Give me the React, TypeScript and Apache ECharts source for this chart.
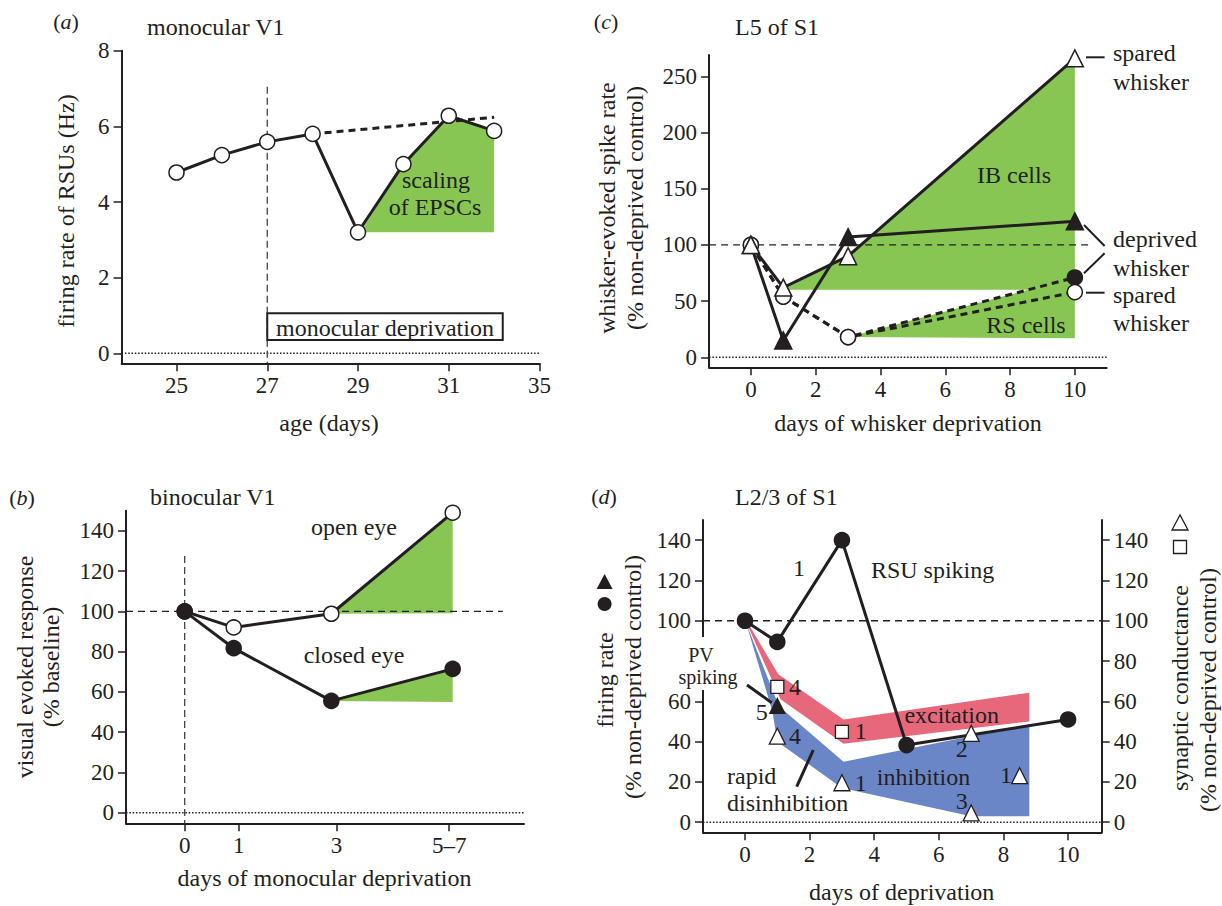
import React, { useEffect, useRef } from 'react';
import * as echarts from 'echarts';

const INK = '#231f20';
const FONT = 'Liberation Serif';
const GREEN = '#88c653';
const RED = '#e8687b';
const BLUE = '#6b86c6';
const TICK_FS = 23;
const TXT_FS = 24;

// ---------- Panel (a) monocular V1 ----------
const aDays = [25, 26, 27, 28, 29, 30, 31, 32];
const aRate = [4.78, 5.24, 5.59, 5.8, 3.2, 5.0, 6.28, 5.88];
const aCtrlDays = [28, 32];
const aCtrlRate = [5.8, 6.24];
const aTickPos = [25, 27, 29, 31, 33];
const aTickLabels = ['25', '27', '29', '31', '35'];
const aYTicks = [0, 2, 4, 6, 8];
const aScalingBase = 3.2;

// ---------- Panel (b) binocular V1 ----------
const bDays = [0, 0.97, 2.9, 5.3];
const bOpenEye = [100, 92, 98.8, 149];
const bClosedEye = [100, 81.7, 55.5, 71.4];
const bTickPos = [0, 1.07, 3, 5.23];
const bTickLabels = ['0', '1', '3', '5–7'];
const bYTicks = [0, 20, 40, 60, 80, 100, 120, 140];
const bOpenBase = 99;
const bClosedBase = 55;

// ---------- Panel (c) L5 of S1 ----------
const cDays = [0, 1, 3, 10];
const cIBSpared = [100, 62, 90, 266];
const cIBDeprived = [100, 15, 107, 121];
const cRSDeprived = [100, 54, 18, 71];
const cRSSpared = [100, 54, 18, 58];
const cXTicks = [0, 2, 4, 6, 8, 10];
const cYTicks = [0, 50, 100, 150, 200, 250];
const cIBBase = 60;
const cRSBase = 17;

// ---------- Panel (d) L2/3 of S1 ----------
const dRSUDays = [0, 1, 3, 5, 10];
const dRSU = [100, 89.5, 140, 38.3, 51];
const dPVDays = [1];
const dPV = [57.7];
const dExcDays = [1, 3];
const dExc = [67.2, 44.8];
const dInhDays = [1, 3, 7, 7, 8.5];
const dInh = [42.7, 19.6, 44.1, 4.6, 23.1];
const dExcBand = [[0.05, 100], [1.03, 73.5], [3.05, 51], [8.8, 64.3], [8.8, 50], [3.05, 39], [1.1, 61], [0.1, 97]];
const dInhBand = [[0.03, 99], [1.05, 57.5], [3.05, 30], [8.8, 48.5], [8.8, 3], [7, 3], [3, 17], [1, 40], [0.85, 55]];
const dXTicks = [0, 2, 4, 6, 8, 10];
const dYTicksLeft = [0, 20, 40, 60, 100, 120, 140];
const dYTicksRight = [0, 20, 40, 60, 80, 100, 120, 140];

const zip = (xs: number[], ys: number[]) => xs.map((x, i) => [x, ys[i]]);

function axisBase(extra: any) {
  return {
    type: 'value',
    axisLine: { show: true, onZero: false, lineStyle: { color: INK, width: 2 } },
    splitLine: { show: false },
    ...extra,
  };
}

function xAx(grid: number, min: number, max: number, ticks: number[], labels?: string[]) {
  return axisBase({
    gridIndex: grid, min, max,
    axisTick: { show: true, length: 8, lineStyle: { color: INK, width: 1.5 }, customValues: ticks },
    axisLabel: {
      color: INK, fontSize: TICK_FS, fontFamily: FONT, margin: 11, customValues: ticks,
      formatter: (v: number) => {
        const i = ticks.findIndex((t) => Math.abs(t - v) < 1e-6);
        return labels && i >= 0 ? labels[i] : String(v);
      },
    },
  });
}

function yAx(grid: number, min: number, max: number, ticks: number[], position = 'left') {
  return axisBase({
    gridIndex: grid, min, max, position,
    axisTick: { show: true, length: 8, lineStyle: { color: INK, width: 1.5 }, customValues: ticks },
    axisLabel: { color: INK, fontSize: TICK_FS, fontFamily: FONT, margin: 12, customValues: ticks },
  });
}

function poly(ax: number, ay: number, pts: number[][], color: string) {
  return {
    type: 'custom', xAxisIndex: ax, yAxisIndex: ay, z: 1, silent: true, data: pts,
    renderItem: (params: any, api: any) =>
      params.dataIndex === 0
        ? { type: 'polygon', shape: { points: pts.map((p) => api.coord(p)) }, style: { fill: color } }
        : null,
  };
}

function refLine(ax: number, ay: number, data: number[][], dash: any, width = 1.3, color = INK) {
  return {
    type: 'line', xAxisIndex: ax, yAxisIndex: ay, data, symbol: 'none', silent: true, z: 2,
    lineStyle: { color, width, type: dash },
  };
}

function dataLine(ax: number, ay: number, data: number[][], symbol: string, filled: boolean, dashed: boolean, size = 15) {
  return {
    type: 'line', xAxisIndex: ax, yAxisIndex: ay, data, symbol, symbolSize: size, silent: true, z: 3,
    showAllSymbol: true,
    lineStyle: { color: INK, width: 3, type: dashed ? [7, 5] : 'solid' },
    itemStyle: { color: filled ? INK : '#ffffff', borderColor: INK, borderWidth: 1.5, opacity: 1 },
  };
}

function scatter(ax: number, ay: number, data: number[][], symbol: string, filled: boolean, size: number) {
  return {
    type: 'scatter', xAxisIndex: ax, yAxisIndex: ay, data, symbol, symbolSize: size, silent: true, z: 4,
    itemStyle: { color: filled ? INK : '#ffffff', borderColor: INK, borderWidth: 1.3, opacity: 1 },
  };
}

function txt(text: string, x: number, y: number, o: any = {}) {
  const align = o.align || 'center';
  return {
    type: 'text', x, y, rotation: o.rot || 0, silent: true, z: 10,
    style: {
      text, fill: INK, fontSize: o.size || TXT_FS, fontFamily: FONT, fontStyle: o.italic ? 'italic' : 'normal',
      textAlign: align, align, textVerticalAlign: 'middle', verticalAlign: 'middle',
    },
  };
}

function letter(l: string, x: number, y: number) {
  return {
    type: 'text', x, y, silent: true, z: 10,
    style: {
      text: `{p|(}{i|${l}}{p|)}`,
      textAlign: 'center', align: 'center', textVerticalAlign: 'middle', verticalAlign: 'middle',
      rich: {
        p: { fontSize: 22, fontFamily: FONT, fill: INK, color: INK },
        i: { fontSize: 22, fontFamily: FONT, fontStyle: 'italic', fill: INK, color: INK },
      },
    },
  };
}

function seg(x1: number, y1: number, x2: number, y2: number, w = 2) {
  return { type: 'line', silent: true, z: 10, shape: { x1, y1, x2, y2 }, style: { stroke: INK, lineWidth: w } };
}

function buildOption() {
  const R = Math.PI / 2;
  const boxSeries = {
    type: 'custom', xAxisIndex: 0, yAxisIndex: 0, z: 5, silent: true, data: [[27, 1.06], [32.19, 0.35]],
    renderItem: (params: any, api: any) => {
      if (params.dataIndex !== 0) return null;
      const p1 = api.coord([27, 1.06]);
      const p2 = api.coord([32.19, 0.35]);
      return {
        type: 'group',
        children: [
          { type: 'rect', shape: { x: p1[0], y: p1[1], width: p2[0] - p1[0], height: p2[1] - p1[1] }, style: { fill: '#fff', stroke: INK, lineWidth: 2 } },
          {
            type: 'text', style: {
              text: 'monocular deprivation', x: (p1[0] + p2[0]) / 2, y: (p1[1] + p2[1]) / 2 + 1,
              fill: INK, fontSize: TXT_FS, fontFamily: FONT, align: 'center', verticalAlign: 'middle', textAlign: 'center', textVerticalAlign: 'middle',
            },
          },
        ],
      };
    },
  };

  const aGreen = [[29.05, aScalingBase], ...zip(aDays.slice(5), aRate.slice(5)), [32, aScalingBase]];
  const bGreenOpen = [[bDays[2], bOpenEye[2]], [bDays[3], bOpenEye[3]], [bDays[3], bOpenBase]];
  const bGreenClosed = [[bDays[2], bClosedEye[2]], [bDays[3], bClosedEye[3]], [bDays[3], bClosedBase]];
  const cGreenIB = [[cDays[1], cIBBase], [cDays[2], cIBSpared[2]], [cDays[3], cIBSpared[3]], [cDays[3], cIBBase]];
  const cGreenRS = [[cDays[2], cRSDeprived[2]], [cDays[3], cRSDeprived[3]], [cDays[3], cRSBase]];

  return {
    animation: false,
    backgroundColor: '#ffffff',
    textStyle: { fontFamily: FONT },
    grid: [
      { left: 121.6, top: 50.7, width: 417.9, height: 312.6 },
      { left: 126, top: 510.7, width: 398, height: 312.6 },
      { left: 709.1, top: 55, width: 397.5, height: 312.3 },
      { left: 703, top: 520, width: 398.7, height: 312.3 },
    ],
    xAxis: [
      xAx(0, 23.79, 33, aTickPos, aTickLabels),
      xAx(1, -1.16, 6.71, bTickPos, bTickLabels),
      xAx(2, -1.29, 10.98, cXTicks),
      xAx(3, -1.3, 11.04, dXTicks),
    ],
    yAxis: [
      yAx(0, -0.263, 8, aYTicks),
      yAx(1, -5.3, 150, bYTicks),
      yAx(2, -8.9, 269, cYTicks),
      yAx(3, -5, 150, dYTicksLeft),
      yAx(3, -5, 150, dYTicksRight, 'right'),
    ],
    series: [
      // (a)
      poly(0, 0, aGreen, GREEN),
      refLine(0, 0, [[23.79, 0], [33, 0]], [1.5, 1.8], 1.5),
      refLine(0, 0, [[27, 7.05], [27, -0.26]], [7, 4], 1.3, '#444'),
      boxSeries,
      dataLine(0, 0, zip(aCtrlDays, aCtrlRate), 'none', false, true),
      dataLine(0, 0, zip(aDays, aRate), 'circle', false, false, 15),
      // (b)
      poly(1, 1, bGreenOpen, GREEN),
      poly(1, 1, bGreenClosed, GREEN),
      refLine(1, 1, [[-1.16, 100], [6.29, 100]], [7, 5]),
      refLine(1, 1, [[0, 127.5], [0, -5.3]], [7, 4], 1.3, '#444'),
      refLine(1, 1, [[-1.16, 0], [6.71, 0]], [1.5, 1.8], 1.5),
      dataLine(1, 1, zip(bDays, bOpenEye), 'circle', false, false, 15),
      dataLine(1, 1, zip(bDays, bClosedEye), 'circle', true, false, 15),
      // (c)
      poly(2, 2, cGreenIB, GREEN),
      poly(2, 2, cGreenRS, GREEN),
      refLine(2, 2, [[-1.29, 100], [10.42, 100]], [7, 5]),
      refLine(2, 2, [[-1.29, 0], [10.98, 0]], [1.5, 1.8], 1.5),
      dataLine(2, 2, zip(cDays, cRSDeprived), 'circle', true, true, 15),
      dataLine(2, 2, zip(cDays, cRSSpared), 'circle', false, true, 15),
      dataLine(2, 2, zip(cDays, cIBDeprived), 'triangle', true, false, 17),
      dataLine(2, 2, zip(cDays, cIBSpared), 'triangle', false, false, 17),
      // (d)
      poly(3, 3, dExcBand, RED),
      poly(3, 3, dInhBand, BLUE),
      refLine(3, 3, [[-1.3, 100], [11.04, 100]], [7, 5]),
      refLine(3, 3, [[-1.3, 0], [11.04, 0]], [1.5, 1.8], 1.5),
      dataLine(3, 3, zip(dRSUDays, dRSU), 'circle', true, false, 15),
      scatter(3, 3, zip(dPVDays, dPV), 'triangle', true, 15),
      scatter(3, 3, zip(dExcDays, dExc), 'rect', false, 13),
      scatter(3, 3, zip(dInhDays, dInh), 'triangle', false, 16),
    ],
    graphic: [
      // (a)
      letter('a', 66, 21),
      txt('monocular V1', 147, 27, { align: 'left' }),
      txt('scaling', 436, 180),
      txt('of EPSCs', 435, 207),
      txt('firing rate of RSUs (Hz)', 66, 211, { rot: R }),
      txt('age (days)', 329, 423),
      // (b)
      letter('b', 22, 497),
      txt('binocular V1', 150, 497, { align: 'left' }),
      txt('open eye', 354, 527),
      txt('closed eye', 354, 655),
      txt('visual evoked response', 25, 667, { rot: R }),
      txt('(% baseline)', 51, 667, { rot: R }),
      txt('days of monocular deprivation', 324.5, 878),
      // (c)
      letter('c', 606, 21),
      txt('L5 of S1', 735, 27, { align: 'left' }),
      txt('IB cells', 1014, 175),
      txt('RS cells', 1026, 325),
      txt('spared', 1113, 53, { align: 'left' }),
      txt('whisker', 1113, 82, { align: 'left' }),
      txt('deprived', 1113, 239, { align: 'left' }),
      txt('whisker', 1113, 268, { align: 'left' }),
      txt('spared', 1113, 295, { align: 'left' }),
      txt('whisker', 1113, 323, { align: 'left' }),
      seg(1086, 57.3, 1104.6, 57.3),
      seg(1084, 225, 1104.6, 246),
      seg(1104.6, 253.3, 1084, 273.3),
      seg(1086, 292.7, 1104.6, 292.7),
      txt('whisker-evoked spike rate', 606.6, 208, { rot: R }),
      txt('(% non-deprived control)', 635.3, 208, { rot: R }),
      txt('days of whisker deprivation', 908, 423),
      // (d)
      letter('d', 604, 496),
      txt('L2/3 of S1', 735, 497, { align: 'left' }),
      txt('RSU spiking', 932.6, 570),
      txt('1', 799, 568),
      { type: 'rect', silent: true, z: 9, shape: { x: 697, y: 637, width: 12, height: 53 }, style: { fill: '#fff' } },
      txt('PV', 701, 655, { size: 20 }),
      txt('spiking', 708, 677, { size: 20 }),
      seg(747, 685, 771.7, 702.7, 3),
      txt('excitation', 951.7, 715),
      txt('inhibition', 923.5, 777),
      txt('rapid', 727, 776, { align: 'left' }),
      txt('disinhibition', 727, 803, { align: 'left' }),
      seg(813.3, 750, 796.7, 786.7, 3),
      txt('4', 795, 687),
      txt('5', 761.7, 712),
      txt('4', 795, 736),
      txt('1', 860.7, 731),
      txt('1', 860.7, 783),
      txt('2', 961.7, 749),
      txt('3', 961.7, 801),
      txt('1', 1006, 775),
      txt('firing rate', 604.6, 680, { rot: R }),
      txt('(% non-deprived control)', 633.3, 677, { rot: R }),
      { type: 'circle', silent: true, z: 10, shape: { cx: 604.6, cy: 604, r: 7 }, style: { fill: INK } },
      { type: 'polygon', silent: true, z: 10, shape: { points: [[604.6, 574], [596.6, 589], [612.6, 589]] }, style: { fill: INK } },
      txt('synaptic conductance', 1180, 688, { rot: R }),
      txt('(% non-deprived control)', 1208, 690, { rot: R }),
      { type: 'rect', silent: true, z: 10, shape: { x: 1173.5, y: 540.5, width: 13, height: 13 }, style: { fill: '#fff', stroke: INK, lineWidth: 1.3 } },
      { type: 'polygon', silent: true, z: 10, shape: { points: [[1180, 515], [1172, 530], [1188, 530]] }, style: { fill: '#fff', stroke: INK, lineWidth: 1.3 } },
      txt('days of deprivation', 901.7, 891.7),
    ],
  };
}

export default function App() {
  const ref = useRef<HTMLDivElement>(null);
  useEffect(() => {
    document.body.style.margin = '0';
    const chart = echarts.init(ref.current as HTMLDivElement, null, { renderer: 'svg' });
    chart.setOption(buildOption() as any);
    return () => chart.dispose();
  }, []);
  return <div ref={ref} style={{ width: 1222, height: 906, background: '#fff' }} />;
}
